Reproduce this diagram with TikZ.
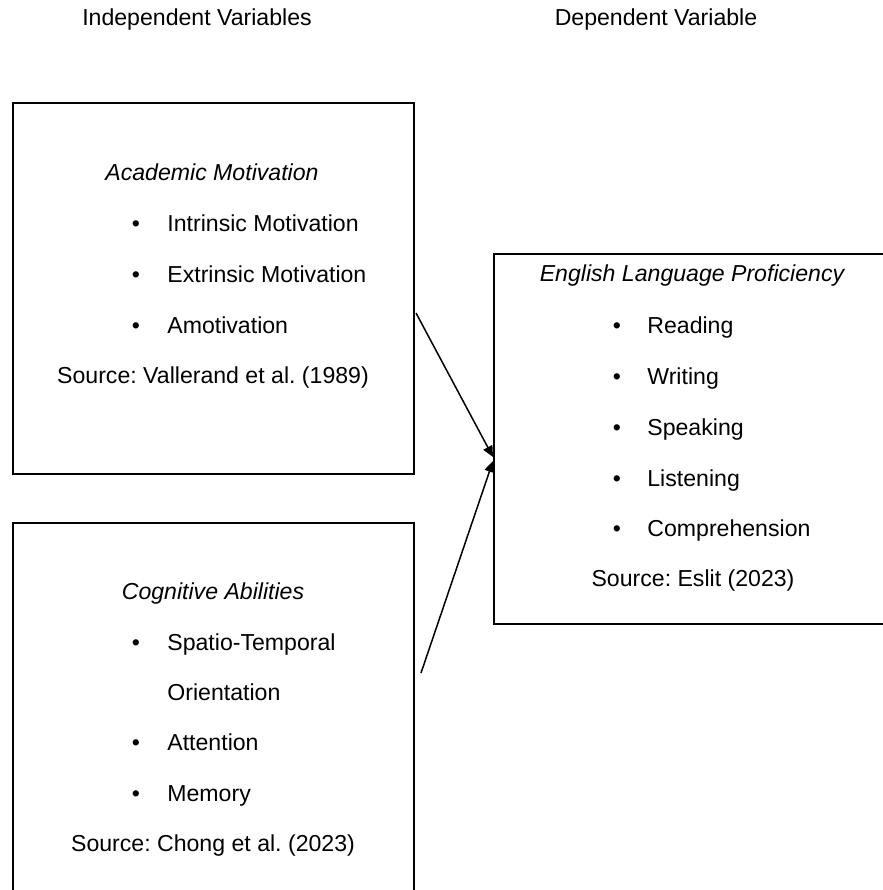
\documentclass[tikz,border=0pt]{standalone}
\usepackage{fontspec}
\setmainfont{Liberation Sans}
\usetikzlibrary{arrows.meta}
\frenchspacing
\tikzset{
  varbox/.style={draw, line width=1pt, inner sep=0pt, anchor=north west},
  txt/.style={font=\fontsize{11.55}{14}\selectfont, inner sep=0pt, text height=8.3pt, text depth=0pt},
  itm/.style={txt, anchor=west},
  bul/.style={txt, anchor=center},
  link/.style={line width=0.75pt, -{Triangle[length=5.5pt, width=5pt]}}
}
\begin{document}
\begin{tikzpicture}[x=0.5pt, y=-0.5pt]
  \useasboundingbox (0,0) rectangle (883,890);
  % headings
  \node[txt] (indep) at (197,17) {Independent Variables};
  \node[txt] (dep) at (656,17) {Dependent Variable};
  % boxes
  \node[varbox, minimum width=200.5pt, minimum height=185.5pt] (acad) at (12,102) {};
  \node[varbox, minimum width=200.5pt, minimum height=190pt] (cogn) at (12,522) {};
  \node[varbox, minimum width=197pt, minimum height=185pt] (elp) at (493,253) {};
  % academic motivation
  \node[txt] (acadtitle) at (212,172) {\itshape Academic Motivation};
  \foreach \y/\t in {223/Intrinsic Motivation, 274/Extrinsic Motivation, 325/Amotivation} {
    \node[bul] at (136,\y) {•};
    \node[itm] at (167,\y) {\t};
  }
  \node[txt] (acadsrc) at (213,375) {Source: Vallerand et al. (1989)};
  % cognitive abilities
  \node[txt] (cogntitle) at (213,591) {\itshape Cognitive Abilities};
  \foreach \y/\t in {642/Spatio-Temporal, 742/Attention, 793/Memory} {
    \node[bul] at (136,\y) {•};
    \node[itm] at (167,\y) {\t};
  }
  \node[itm] (orient) at (167,692) {Orientation};
  \node[txt] (cognsrc) at (213,843) {Source: Chong et al. (2023)};
  % english language proficiency
  \node[txt] (elptitle) at (692,273) {\itshape English Language Proficiency};
  \foreach \y/\t in {325/Reading, 376/Writing, 427/Speaking, 478/Listening, 528/Comprehension} {
    \node[bul] at (617,\y) {•};
    \node[itm] at (647,\y) {\t};
  }
  \node[txt] (elpsrc) at (693,578) {Source: Eslit (2023)};
  % arrows
  \coordinate (a1) at (416,313);
  \coordinate (a2) at (421,673);
  \coordinate (t1) at (elp.west |- 0,457);
  \coordinate (t2) at (elp.west |- 0,461);
  \draw[link] (a1) -- (t1);
  \draw[link] (a2) -- (t2);
\end{tikzpicture}
\end{document}
